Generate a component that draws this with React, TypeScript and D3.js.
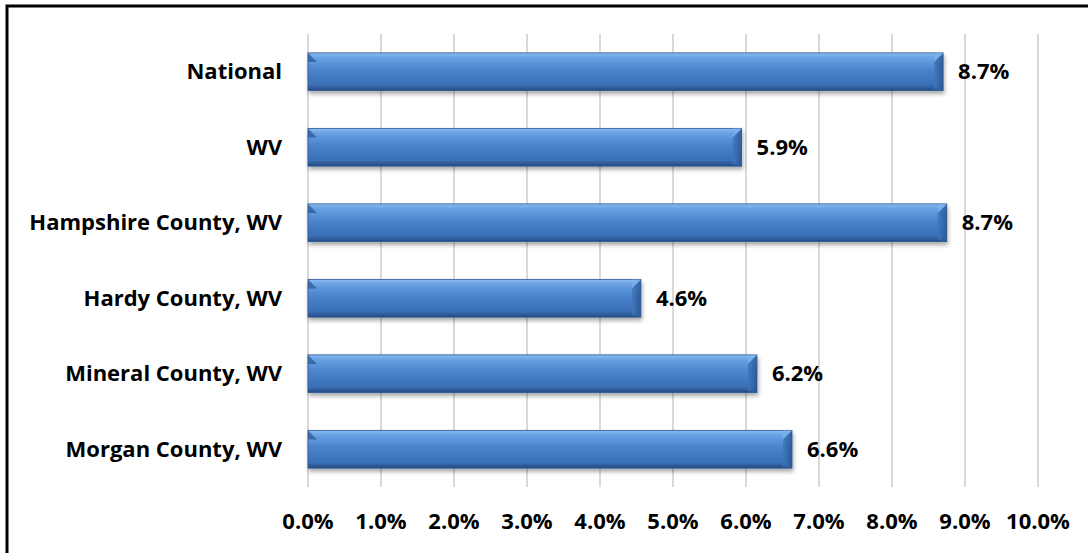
import React from 'react';
import * as d3 from 'd3';

const categories = ['National', 'WV', 'Hampshire County, WV', 'Hardy County, WV', 'Mineral County, WV', 'Morgan County, WV'];
const values = [8.7, 5.94, 8.75, 4.56, 6.15, 6.63];
const valueLabels = ['8.7%', '5.9%', '8.7%', '4.6%', '6.2%', '6.6%'];
const ticks = [0, 1, 2, 3, 4, 5, 6, 7, 8, 9, 10];

const W = 1088;
const H = 553;
const font = "'Open Sans', 'Noto Sans', sans-serif";

const App: React.FC = () => {
  const x = d3.scaleLinear().domain([0, 10]).range([308, 1038]);
  const y = d3.scaleBand<string>().domain(categories).range([34, 487]).paddingInner(0.5).paddingOuter(0.25);
  const bh = y.bandwidth();

  return (
    <svg width={W} height={H} style={{ position: 'absolute', left: 0, top: 0, background: '#fff' }}>
      <defs>
        <linearGradient id="barGrad" x1="0" y1="0" x2="0" y2="1">
          <stop offset="0" stopColor="#8cbcf0" />
          <stop offset="0.12" stopColor="#6aa2e4" />
          <stop offset="0.45" stopColor="#4a83cc" />
          <stop offset="0.85" stopColor="#3a6fb5" />
          <stop offset="1" stopColor="#24497e" />
        </linearGradient>
        <linearGradient id="endGrad" x1="0" y1="0" x2="1" y2="0">
          <stop offset="0" stopColor="#3f77bf" />
          <stop offset="1" stopColor="#2a5590" />
        </linearGradient>
        <filter id="shadow" x="-5%" y="-20%" width="110%" height="160%">
          <feDropShadow dx="1" dy="3" stdDeviation="2" floodColor="#000" floodOpacity="0.35" />
        </filter>
      </defs>
      <rect x={7} y={6} width={W + 10} height={H + 10} fill="#fff" stroke="#000" strokeWidth={3} />

      {ticks.map(t => (
        <line key={t} x1={x(t)} x2={x(t)} y1={34} y2={487} stroke="#d9d9d9" strokeWidth={2} />
      ))}

      {categories.map((c, i) => {
        const y0 = y(c)!;
        const x0 = x(0);
        const x1 = x(values[i]);
        const b = 9;
        return (
          <g key={c}>
            <g filter="url(#shadow)">
              <rect x={x0} y={y0} width={x1 - x0} height={bh} fill="url(#barGrad)" stroke="#2d5a94" strokeWidth={0.8} />
            </g>
            <polygon points={`${x1 - b},${y0 + b} ${x1},${y0} ${x1},${y0 + bh} ${x1 - b},${y0 + bh - 2}`} fill="url(#endGrad)" opacity={0.85} />
            <polygon points={`${x1 - b},${y0 + b} ${x1},${y0} ${x1 - b},${y0}`} fill="#7fb2ec" opacity={0.6} />
            <polygon points={`${x0},${y0} ${x0 + b},${y0 + b} ${x0},${y0 + b}`} fill="#2a5590" opacity={0.7} />
            <text x={x0 - 26} y={y0 + bh / 2} dy="0.35em" textAnchor="end" fontFamily={font} fontWeight={700} fontSize={22} fill="#000">{c}</text>
            <text x={x1 + 15} y={y0 + bh / 2} dy="0.35em" textAnchor="start" fontFamily={font} fontWeight={700} fontSize={22} fill="#000">{valueLabels[i]}</text>
          </g>
        );
      })}

      {ticks.map(t => (
        <text key={t} x={x(t)} y={521} dy="0.35em" textAnchor="middle" fontFamily={font} fontWeight={700} fontSize={22} fill="#000">{t.toFixed(1)}%</text>
      ))}
    </svg>
  );
};

export default App;
